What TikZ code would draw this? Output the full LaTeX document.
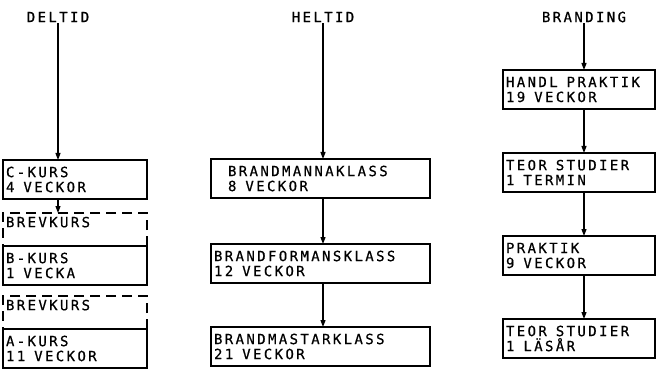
\documentclass[tikz,border=0pt]{standalone}
\usepackage{fontspec}
\newfontfamily\plotfont[LetterSpace=17,FakeBold=0.6]{DejaVu Sans Mono}
\usetikzlibrary{arrows.meta,positioning}
\newcommand\wsp{\hspace{9pt}}

\begin{document}
\begin{tikzpicture}[
  x=1pt, y=-1pt,
  font={\plotfont\fontsize{14}{15}\selectfont},
  box/.style={draw,line width=1.2pt,outer sep=0pt,anchor=north west,align=left,inner xsep=3pt,inner ysep=2pt,minimum height=39pt,text width=#1},
  brev/.style={box=#1,dash pattern=on 10pt off 6pt,minimum height=33pt},
  title/.style={inner sep=1pt},
  arr/.style={-{Triangle[length=7pt,width=5pt]},line width=1.2pt}
]
  \useasboundingbox (0,0) rectangle (657,369);

  \node[title] (deltid) at (58,17) {DELTID};
  \node[title] (heltid) at (323,17) {HELTID};
  \node[title] (branding) at (584,17) {BRANDING};

  \node[box=138pt] (ckurs) at (3,160) {C-KURS\\4\wsp VECKOR};
  \node[brev=138pt, below=14pt of ckurs] (brev1) {BREVKURS\\\mbox{}};
  \node[box=138pt, below=0pt of brev1] (bkurs) {B-KURS\\1\wsp VECKA};
  \node[brev=138pt, below=11pt of bkurs] (brev2) {BREVKURS\\\mbox{}};
  \node[box=138pt, below=0pt of brev2] (akurs) {A-KURS\\11\wsp VECKOR};

  \node[box=185pt, inner xsep=17pt] (mann) at (211,159) {BRANDMANNAKLASS\\8\wsp VECKOR};
  \node[box=213pt, below=46pt of mann] (forman) {BRANDFORMANSKLASS\\12\wsp VECKOR};
  \node[box=213pt, below=44pt of forman] (mastar) {BRANDMASTARKLASS\\21\wsp VECKOR};

  \node[box=146pt] (handl) at (503,70) {HANDL\wsp PRAKTIK\\19\wsp VECKOR};
  \node[box=146pt, below=44pt of handl] (teor1) {TEOR\wsp STUDIER\\1\wsp TERMIN};
  \node[box=146pt, below=44pt of teor1] (praktik) {PRAKTIK\\9\wsp VECKOR};
  \node[box=146pt, below=44pt of praktik] (teor2) {TEOR\wsp STUDIER\\1\wsp LÄSÅR};

  \draw[arr] (deltid) -- (deltid |- ckurs.north);
  \draw[arr] (deltid |- ckurs.south) -- (deltid |- brev1.north);

  \draw[arr] (heltid) -- (heltid |- mann.north);
  \draw[arr] (heltid |- mann.south) -- (heltid |- forman.north);
  \draw[arr] (heltid |- forman.south) -- (heltid |- mastar.north);

  \draw[arr] (branding) -- (branding |- handl.north);
  \draw[arr] (branding |- handl.south) -- (branding |- teor1.north);
  \draw[arr] (branding |- teor1.south) -- (branding |- praktik.north);
  \draw[arr] (branding |- praktik.south) -- (branding |- teor2.north);
\end{tikzpicture}
\end{document}
